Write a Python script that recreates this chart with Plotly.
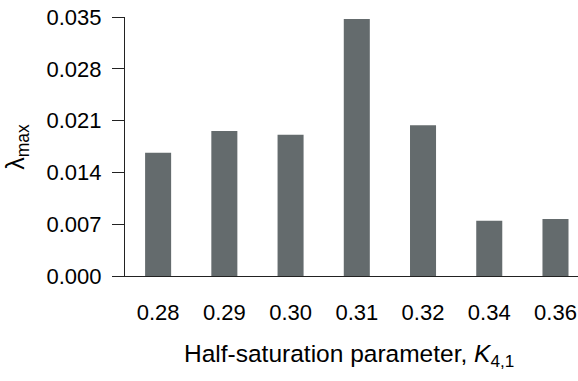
import plotly.graph_objects as go

categories = ["0.28", "0.29", "0.30", "0.31", "0.32", "0.34", "0.36"]
lambda_max = [0.01666, 0.01959, 0.01909, 0.03472, 0.02036, 0.00747, 0.0077]
y_ticks = [0.000, 0.007, 0.014, 0.021, 0.028, 0.035]
y_tick_labels = ["0.000", "0.007", "0.014", "0.021", "0.028", "0.035"]

FONT = "Liberation Sans, Arial, Helvetica, sans-serif"

fig = go.Figure(go.Bar(
    x=categories, y=lambda_max,
    marker=dict(color="#646b6d", line=dict(width=0)),
))

fig.update_layout(
    width=578, height=381,
    margin=dict(l=125, r=0, t=17, b=105),
    plot_bgcolor="white", paper_bgcolor="white",
    bargap=0.607,
    showlegend=False,
    font=dict(family=FONT, size=22, color="black"),
    xaxis=dict(
        type="category", range=[-0.5, 6.34], automargin=False,
        showline=True, linecolor="#222", linewidth=1.2,
        ticks="", showgrid=False, zeroline=False,
        tickfont=dict(size=22), ticklabelstandoff=16,
    ),
    yaxis=dict(
        range=[0, 0.035], tickvals=y_ticks, ticktext=y_tick_labels,
        automargin=False,
        showline=True, linecolor="#222", linewidth=1.2,
        ticks="outside", ticklen=12, tickcolor="#222", tickwidth=1.2,
        showgrid=False, zeroline=False,
        tickfont=dict(size=22), ticklabelstandoff=6,
    ),
    annotations=[
        dict(text="Half-saturation parameter, <i>K</i><sub>4,1</sub>",
             xref="paper", yref="paper", x=0.495, y=-0.24,
             xanchor="center", yanchor="top", showarrow=False,
             font=dict(size=24.5, family=FONT)),
        dict(text="λ<sub>max</sub>",
             xref="paper", yref="paper", x=-0.24, y=0.5,
             xanchor="center", yanchor="middle", showarrow=False,
             textangle=-90, font=dict(size=25, family=FONT)),
    ],
)

fig.write_html("out.html",
               config={"displayModeBar": False},
               post_script="document.body.style.margin='0';document.body.style.overflow='hidden';")
